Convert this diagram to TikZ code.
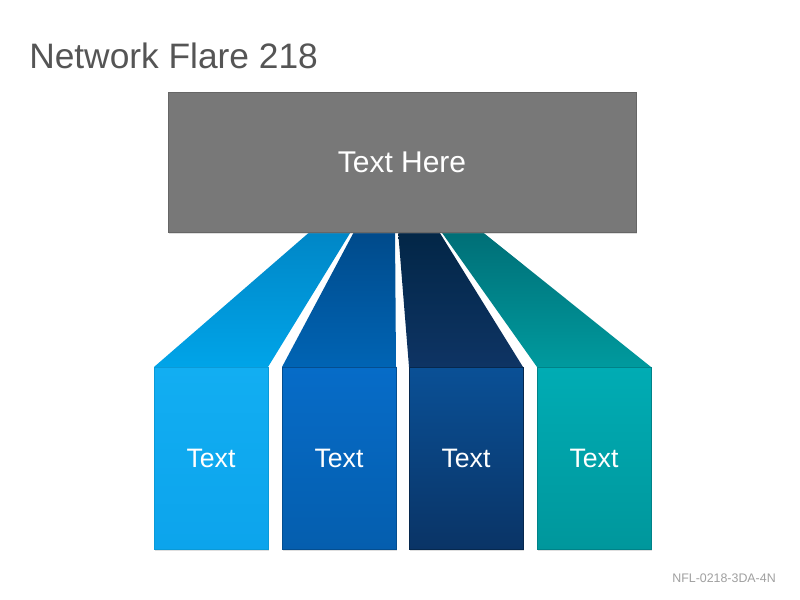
\documentclass[tikz,border=0pt]{standalone}
\usepackage{fontspec}
\setmainfont{Liberation Sans}
\usetikzlibrary{calc,shadows}
\definecolor{titlegray}{HTML}{555555}
\definecolor{footgray}{HTML}{A0A0A0}
\definecolor{topfill}{HTML}{787878}
\definecolor{topedge}{HTML}{666666}
\definecolor{cAtop}{HTML}{0086C6}\definecolor{cAbot}{HTML}{00A4E8}
\definecolor{cBtop}{HTML}{004A8A}\definecolor{cBbot}{HTML}{0064B4}
\definecolor{cCtop}{HTML}{022646}\definecolor{cCbot}{HTML}{0E3464}
\definecolor{cDtop}{HTML}{006E76}\definecolor{cDbot}{HTML}{009A9E}
\definecolor{bAtop}{HTML}{12AEF2}\definecolor{bAbot}{HTML}{0CA4EC}\definecolor{bAedge}{HTML}{0A9AD8}
\definecolor{bBtop}{HTML}{066CC8}\definecolor{bBbot}{HTML}{055EAE}\definecolor{bBedge}{HTML}{044E90}
\definecolor{bCtop}{HTML}{0A5096}\definecolor{bCbot}{HTML}{0A3466}\definecolor{bCedge}{HTML}{06284E}
\definecolor{bDtop}{HTML}{00ACB4}\definecolor{bDbot}{HTML}{00979C}\definecolor{bDedge}{HTML}{008288}
\tikzset{
  topbox/.style={draw=topedge, line width=0.6pt, fill=topfill, minimum width=351pt, minimum height=105pt, inner sep=0pt,
    drop shadow={opacity=0.25, shadow xshift=1pt, shadow yshift=-1.5pt}, text=white, font=\fontsize{22.5}{26}\selectfont},
  leafbox/.style={line width=0.6pt, minimum width=85.5pt, minimum height=136.5pt, inner sep=0pt,
    drop shadow={opacity=0.25, shadow xshift=1pt, shadow yshift=-1.5pt}, text=white, font=\fontsize{20}{24}\selectfont},
  flare/.style={draw=none}
}
\begin{document}
\begin{tikzpicture}[x=0.75pt,y=-0.75pt]
\useasboundingbox (0,0) rectangle (800,600);
\fill[white] (0,0) rectangle (800,600);
\node[anchor=base west, text=titlegray, font=\fontsize{26.5}{30}\selectfont, inner sep=0pt] (title) at (29,68) {Network Flare 218};
\node[anchor=base east, text=footgray, font=\fontsize{9.3}{11}\selectfont, inner sep=0pt] (foot) at (776,582) {NFL-0218-3DA-4N};
% bottom boxes positions (coordinates first for connectors)
\coordinate (topsw) at (168,232);
\coordinate (b1nw) at (154,367); \coordinate (b1ne) at (268,367);
\coordinate (b2nw) at (282,367); \coordinate (b2ne) at (396,367);
\coordinate (b3nw) at (409,367); \coordinate (b3ne) at (523,367);
\coordinate (b4nw) at (537,367); \coordinate (b4ne) at (651,367);
% flares
\shade[flare, top color=cAtop, bottom color=cAbot] ($(topsw)+(144,-2)$) -- ($(topsw)+(184,-2)$) -- (b1ne) -- (b1nw) -- cycle;
\shade[flare, top color=cBtop, bottom color=cBbot] ($(topsw)+(187,-2)$) -- ($(topsw)+(227,-2)$) -- (b2ne) -- (b2nw) -- cycle;
\shade[flare, top color=cCtop, bottom color=cCbot] ($(topsw)+(230,-2)$) -- ($(topsw)+(270,-2)$) -- (b3ne) -- (b3nw) -- cycle;
\shade[flare, top color=cDtop, bottom color=cDbot] ($(topsw)+(272,-2)$) -- ($(topsw)+(312,-2)$) -- (b4ne) -- (b4nw) -- cycle;
% top box
\node[topbox] (top) at (402,162) {Text Here};
% leaf boxes
\node[leafbox, draw=bAedge, top color=bAtop, bottom color=bAbot] (b1) at (211,458) {Text};
\node[leafbox, draw=bBedge, top color=bBtop, bottom color=bBbot] (b2) at (339,458) {Text};
\node[leafbox, draw=bCedge, top color=bCtop, bottom color=bCbot] (b3) at (466,458) {Text};
\node[leafbox, draw=bDedge, top color=bDtop, bottom color=bDbot] (b4) at (594,458) {Text};
\end{tikzpicture}
\end{document}
